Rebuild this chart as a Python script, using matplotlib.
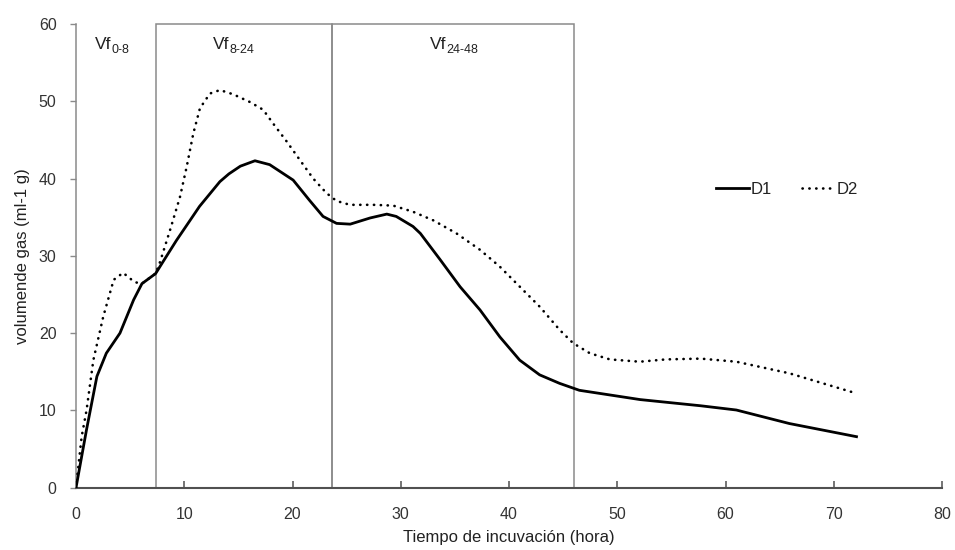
import matplotlib
matplotlib.use("Agg")
import matplotlib.pyplot as plt

plt.rcParams['font.family'] = ['Liberation Sans', 'DejaVu Sans']

# Data
d1_x = [0, 0.97, 1.93, 2.80, 4.06, 5.32, 6.09, 7.35, 8.02, 9.28, 10.54, 11.41, 13.29,
        14.12, 15.18, 16.53, 17.89, 20.06, 21.56, 22.82, 24.07, 25.33, 27.17, 28.71,
        29.58, 31.13, 31.81, 33.64, 35.48, 37.32, 39.16, 40.99, 42.83, 44.67, 46.50,
        49.31, 52.11, 57.7, 61.0, 65.9, 72.1]
d1_y = [0, 7.5, 14.4, 17.4, 20.0, 24.3, 26.4, 27.7, 29.2, 32.0, 34.6, 36.4, 39.6,
        40.6, 41.6, 42.3, 41.8, 39.8, 37.2, 35.1, 34.2, 34.1, 34.9, 35.4,
        35.1, 33.8, 32.9, 29.5, 26.0, 23.0, 19.5, 16.5, 14.6, 13.5, 12.6,
        12.0, 11.4, 10.6, 10.05, 8.3, 6.6]

d2_x = [0, 0.52, 0.97, 1.60, 2.51, 3.48, 4.35, 5.41, 6.09, 7.35, 7.76, 8.68, 9.60,
        10.22, 10.83, 11.45, 12.37, 13.30, 14.52, 16.07, 17.29, 18.22, 19.46, 20.68,
        21.91, 23.15, 24.07, 25.30, 27.45, 29.30, 31.14, 32.99, 35.15, 37.3, 39.15,
        41.0, 42.85, 44.69, 45.92, 47.46, 49.31, 52.08, 54.5, 57.7, 61.0, 65.9, 72.1]
d2_y = [0, 6.6, 10, 16.5, 22.1, 26.9, 27.8, 26.6, 26.4, 27.7, 29.2, 33.3, 37.6,
        41.5, 45.8, 49.1, 51.0, 51.45, 50.9, 49.9, 48.9, 47.1, 44.8, 42.4,
        40.0, 38.1, 37.1, 36.6, 36.6, 36.5, 35.7, 34.6, 32.9, 30.8, 28.6,
        26.0, 23.4, 20.4, 18.7, 17.4, 16.6, 16.3, 16.6, 16.7, 16.3, 14.8, 12.2]

series_names = ["D1", "D2"]

# Phase boxes and labels
phase_bounds = [(7.36, 23.67), (23.67, 46.0)]
phase_labels = [("Vf", "0-8", 1.75), ("Vf", "8-24", 12.65), ("Vf", "24-48", 32.7)]

x_ticks = [0, 10, 20, 30, 40, 50, 60, 70, 80]
y_ticks = [0, 10, 20, 30, 40, 50, 60]

fig = plt.figure(figsize=(9.55, 5.5), dpi=100)
ax = fig.add_axes([0.0796, 0.1133, 0.9068, 0.8431])

box_color = "#8a8a8a"
for (x0, x1) in phase_bounds:
    ax.plot([x0, x0, x1, x1], [0, 60, 60, 0], color=box_color, lw=1.1,
            solid_joinstyle='miter', zorder=1, clip_on=False)

ax.plot(d1_x, d1_y, color="black", lw=2.0, label=series_names[0], zorder=3,
        solid_joinstyle='round')
ax.plot(d2_x, d2_y, color="black", lw=1.9, linestyle=(0, (0.1, 2.5)),
        dash_capstyle='round', label=series_names[1], zorder=3)

for main, sub, xpos in phase_labels:
    t = ax.text(xpos, 57.3, main, fontsize=12.5, color="#222222", ha='left', va='center')
    ax.annotate(sub, xy=(1, 0), xycoords=t, xytext=(0, -2.5), textcoords='offset points',
                fontsize=9, color="#222222", ha='left', va='bottom')

ax.set_xlim(0, 80)
ax.set_ylim(0, 60)
ax.set_xticks(x_ticks)
ax.set_yticks(y_ticks)

for s in ['top', 'right']:
    ax.spines[s].set_visible(False)
ax.spines['left'].set_color(box_color)
ax.spines['left'].set_linewidth(1.1)
ax.spines['bottom'].set_color("#505050")
ax.spines['bottom'].set_linewidth(1.5)

ax.tick_params(axis='x', direction='in', length=5, width=1.1, color="#505050",
               pad=14, labelsize=11.5, labelcolor="#333333")
ax.tick_params(axis='y', direction='out', length=4, width=1.0, color=box_color,
               pad=10, labelsize=11.5, labelcolor="#333333")

ax.set_xlabel("Tiempo de incuvación (hora)", fontsize=12, color="#222222", labelpad=6)
ax.set_ylabel("volumende gas (ml-1 g)", fontsize=12, color="#222222", labelpad=6)

leg = ax.legend(ncol=2, frameon=False, fontsize=12, handlelength=2.0, handletextpad=0.1,
                columnspacing=1.8, loc='center', bbox_to_anchor=(0.824, 0.655),
                bbox_transform=fig.transFigure)
for txt in leg.get_texts():
    txt.set_color("#222222")

fig.savefig("out.png", dpi=100)
